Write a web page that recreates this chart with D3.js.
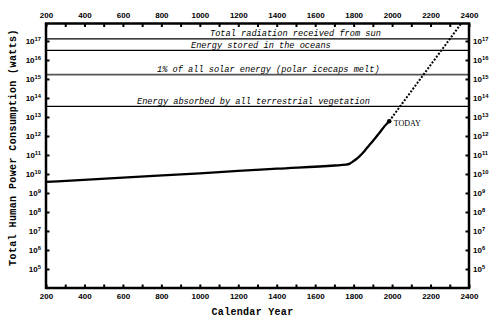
<!DOCTYPE html>
<html>
<head>
<meta charset="utf-8">
<script src="https://cdn.jsdelivr.net/npm/d3@7"></script>
<style>
  html, body { margin: 0; padding: 0; background: #fff; }
  svg { display: block; }
</style>
</head>
<body>
<svg id="chart" width="500" height="325"></svg>
<script>
// ---------------- data ----------------
const historyYears = [200, 600, 1000, 1200, 1400, 1700, 1760, 1780, 1800, 1820, 1840, 1860, 1880, 1900, 1920, 1940, 1960, 1985];
const historyWatts = [3.8e9, 6.5e9, 1.07e10, 1.45e10, 1.9e10, 2.8e10, 3.1e10, 3.5e10, 4.8e10, 6.9e10, 1.07e11, 1.8e11, 3.2e11, 5.5e11, 9.8e11, 1.74e12, 3.2e12, 6.0e12];
const projectionYears = [1985, 2380];
const projectionWatts = [6.0e12, 1.6e18];
const todayYear = 1985;
const todayWatts = 6.0e12;
const todayLabel = "TODAY";

const limitLabels = [
  "Total radiation received from sun",
  "Energy stored in the oceans",
  "1% of all solar energy (polar icecaps melt)",
  "Energy absorbed by all terrestrial vegetation"
];
const limitWatts = [1.3e17, 3.2e16, 1.7e15, 3.6e13];

const xTickLabels = [200, 400, 600, 800, 1000, 1200, 1400, 1600, 1800, 2000, 2200, 2400];
const xMinorTicks = [200, 300, 400, 500, 600, 700, 800, 900, 1000, 1100, 1200, 1300, 1400, 1500, 1600, 1700, 1800, 1900, 2000, 2100, 2200, 2300, 2400];
const yTickExponents = [5, 6, 7, 8, 9, 10, 11, 12, 13, 14, 15, 16, 17];

const xTitle = "Calendar Year";
const yTitle = "Total Human Power Consumption (watts)";

// ---------------- drawing ----------------
const svg = d3.select("#chart");
const L = 46, R = 469, T = 23.5, B = 288;

const x = d3.scaleLinear().domain([200, 2400]).range([L, R]);
const y = d3.scaleLog().domain([1e4, Math.pow(10, 17.92)]).range([B, T]);

svg.append("defs").append("clipPath").attr("id", "plotclip")
  .append("rect").attr("x", L).attr("y", T).attr("width", R - L).attr("height", B - T);

const monoFont = "'Liberation Mono', 'Courier New', monospace";
const sansFont = "'Liberation Sans', Arial, sans-serif";

// limit lines
const limitStyles = [
  { stroke: "#000", w: 1.2 },
  { stroke: "#000", w: 1.2 },
  { stroke: "#555", w: 1.8 },
  { stroke: "#000", w: 1.2 }
];
const limitLabelX = [210, 191, 157, 137];

svg.append("g").selectAll("line").data(limitWatts).join("line")
  .attr("x1", L).attr("x2", R)
  .attr("y1", d => y(d)).attr("y2", d => y(d))
  .attr("stroke", (d, i) => limitStyles[i].stroke)
  .attr("stroke-width", (d, i) => limitStyles[i].w);

svg.append("g").selectAll("text").data(limitLabels).join("text")
  .attr("x", (d, i) => limitLabelX[i])
  .attr("y", (d, i) => y(limitWatts[i]) - 2.8)
  .attr("font-family", monoFont)
  .attr("font-style", "italic")
  .attr("font-size", 8.65)
  .attr("fill", "#000")
  .text(d => d);

// history line
const line = d3.line()
  .x(d => x(d[0])).y(d => y(d[1]))
  .curve(d3.curveMonotoneX);

svg.append("path")
  .datum(historyYears.map((yr, i) => [yr, historyWatts[i]]))
  .attr("d", line)
  .attr("fill", "none")
  .attr("stroke", "#000")
  .attr("stroke-width", 2.3)
  .attr("stroke-linejoin", "round");

// projection dotted line
svg.append("path")
  .datum(projectionYears.map((yr, i) => [yr, projectionWatts[i]]))
  .attr("d", d3.line().x(d => x(d[0])).y(d => y(d[1])))
  .attr("clip-path", "url(#plotclip)")
  .attr("fill", "none")
  .attr("stroke", "#000")
  .attr("stroke-width", 2)
  .attr("stroke-dasharray", "2,1.6");

// today marker
svg.append("circle")
  .attr("cx", x(todayYear)).attr("cy", y(todayWatts)).attr("r", 2.3)
  .attr("fill", "#000");
svg.append("text")
  .attr("x", x(todayYear) + 4.5).attr("y", y(todayWatts) + 5)
  .attr("font-family", "'Liberation Serif', 'Times New Roman', serif")
  .attr("font-size", 8)
  .attr("fill", "#000")
  .text(todayLabel);

// axes (inward ticks)
function styleAxis(g) {
  g.select(".domain").remove();
  g.selectAll(".tick line").attr("stroke", "#000").attr("stroke-width", 2);
}

const fmtX = d => (xTickLabels.includes(d) ? String(d) : "");

const gBottom = svg.append("g").attr("transform", `translate(0,${B})`)
  .call(d3.axisBottom(x).tickValues(xMinorTicks).tickSizeInner(-3.5).tickSizeOuter(0).tickFormat(fmtX));
styleAxis(gBottom);
gBottom.selectAll(".tick text")
  .attr("y", 10.5).attr("dy", null)
  .attr("font-family", sansFont).attr("font-size", 8).attr("font-weight", "bold").attr("fill", "#000");

const gTop = svg.append("g").attr("transform", `translate(0,${T})`)
  .call(d3.axisTop(x).tickValues(xMinorTicks).tickSizeInner(-3.5).tickSizeOuter(0).tickFormat(fmtX));
styleAxis(gTop);
gTop.selectAll(".tick text")
  .attr("y", -5.5).attr("dy", null)
  .attr("font-family", sansFont).attr("font-size", 8).attr("font-weight", "bold").attr("fill", "#000");

const yTickValues = yTickExponents.map(e => Math.pow(10, e));

const gLeft = svg.append("g").attr("transform", `translate(${L},0)`)
  .call(d3.axisLeft(y).tickValues(yTickValues).tickSizeInner(-3.5).tickSizeOuter(0).tickFormat(""));
styleAxis(gLeft);
const gRight = svg.append("g").attr("transform", `translate(${R},0)`)
  .call(d3.axisRight(y).tickValues(yTickValues).tickSizeInner(-3.5).tickSizeOuter(0).tickFormat(""));
styleAxis(gRight);

function powerLabel(sel, anchor) {
  sel.each(function(e) {
    const t = d3.select(this);
    t.append("tspan").attr("font-size", 8).text("10");
    t.append("tspan").attr("font-size", 5.8).attr("dy", -3.6).text(String(e));
  });
  sel.attr("text-anchor", anchor);
}

gLeft.selectAll(".tick").append("text")
  .datum((d, i) => yTickExponents[i])
  .attr("x", -5).attr("y", 3)
  .attr("font-family", sansFont).attr("font-weight", "bold").attr("fill", "#000")
  .call(powerLabel, "end");

gRight.selectAll(".tick").append("text")
  .datum((d, i) => yTickExponents[i])
  .attr("x", 4).attr("y", 3)
  .attr("font-family", sansFont).attr("font-weight", "bold").attr("fill", "#000")
  .call(powerLabel, "start");

// frame
svg.append("rect")
  .attr("x", L).attr("y", T).attr("width", R - L).attr("height", B - T)
  .attr("fill", "none").attr("stroke", "#000").attr("stroke-width", 2.5);

// titles
svg.append("text")
  .attr("x", (L + R) / 2 - 5).attr("y", 314.5)
  .attr("text-anchor", "middle")
  .attr("font-family", monoFont).attr("font-weight", "bold").attr("font-size", 10)
  .attr("letter-spacing", 0.3)
  .text(xTitle);

svg.append("text")
  .attr("transform", `translate(15.5,${147.5}) rotate(-90)`)
  .attr("text-anchor", "middle")
  .attr("font-family", monoFont).attr("font-weight", "bold").attr("font-size", 10)
  .attr("letter-spacing", 0.4)
  .text(yTitle);
</script>
</body>
</html>
